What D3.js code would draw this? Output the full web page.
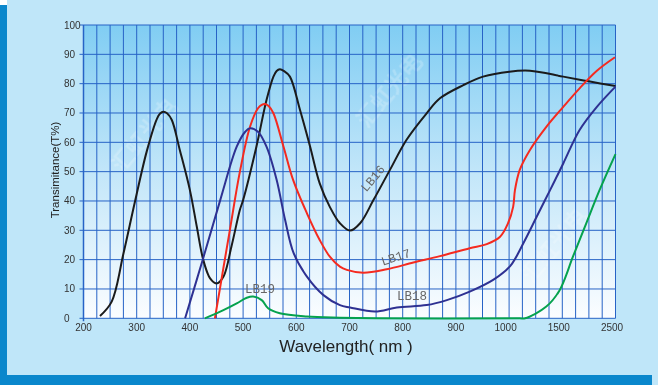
<!DOCTYPE html>
<html>
<head>
<meta charset="utf-8">
<script src="https://cdn.jsdelivr.net/npm/d3@7"></script>
<style>
  html, body { margin: 0; padding: 0; background: #bfe6f9; }
  svg { display: block; }
</style>
</head>
<body>
<div id="chart"></div>
<script>
// wavelength (nm), transmittance (%)
const lb16 = [[231,0.8],[253,5.7],[275,22],[297,40],[319,57],[338,68],[344,69.8],[350,70.4],[357,69.9],[366,67.6],[381,57.4],[400,43.7],[413,31.2],[425,20],[438,13.6],[450,11.9],[463,14.2],[478,24.4],[494,37],[500,40.3],[525,58.5],[544,74.4],[557,82.4],[563,84.3],[569,84.9],[577,84.3],[588,82.4],[607,71],[626,58.5],[644,46],[663,38],[682,32.4],[701,29.9],[720,32.4],[745,40.3],[776,50.6],[807,60.8],[845,69.9],[870,75],[914,79.5],[951,82.4],[1002,84.1],[1196,84.4],[1518,82.4],[2020,80.7],[2500,79.2]];
const lb17 = [[447,0],[475,30],[494,50],[513,65.3],[528,71.6],[535,72.8],[541,73.1],[548,72.4],[557,69.9],[576,58.5],[594,47.2],[620,35.8],[644,26.7],[663,21],[682,17.6],[695,16.5],[726,15.5],[770,16.7],[820,19],[870,21.2],[926,23.9],[958,25.3],[983,27.8],[998,32.4],[1038,38],[1055,43.7],[1100,50.6],[1196,57.4],[1350,65.3],[1518,72.1],[1825,78.4],[2150,84.4],[2490,89]];
const lb18 = [[391,0],[425,20.5],[457,40.3],[488,58.5],[504,63.6],[513,64.8],[528,63.6],[544,58.5],[563,47.2],[579,33.5],[595,22.2],[620,14.2],[651,7.9],[682,4.5],[701,3.7],[748,2.3],[789,3.7],[845,4.5],[883,6.2],[926,9.1],[970,13.1],[1010,17.8],[1134,25.6],[1259,34.6],[1385,43.7],[1518,52.8],[1825,64.2],[2150,72.1],[2500,79]];
const lb19 = [[428,0],[463,2.8],[488,5.1],[507,7],[519,7.4],[535,6.2],[547,3.4],[569,1.7],[620,0.6],[682,0.2],[750,0],[1100,0],[1150,0],[1350,4],[1475,9.6],[1700,21],[1950,32.4],[2200,43.7],[2500,56]];

const xTickLabels = [200, 300, 400, 500, 600, 700, 800, 900, 1000, 1500, 2500];
const yTicks = d3.range(0, 101, 10);
const xGrid = d3.range(200, 1001, 25).concat([1125, 1250, 1375, 1500, 1750, 2000, 2250, 2500]);

const curves = [
  { name: 'LB16', data: lb16, color: '#1b1b1b' },
  { name: 'LB17', data: lb17, color: '#f52a1f' },
  { name: 'LB18', data: lb18, color: '#2e3192' },
  { name: 'LB19', data: lb19, color: '#05a24e' }
];

const W = 658, H = 385;
const plotLeft = 83.5, plotTop = 25, plotRight = 615.5, plotBottom = 318.3;

const svg = d3.select('#chart').append('svg')
  .attr('width', W)
  .attr('height', H)
  .style('font-family', '"Liberation Sans", Arial, sans-serif');

// frame
svg.append('rect').attr('width', W).attr('height', H).attr('fill', '#bfe6f9');
svg.append('rect').attr('x', 0).attr('y', 0).attr('width', 7).attr('height', H).attr('fill', '#0a87cc');
svg.append('rect').attr('x', 0).attr('y', 0).attr('width', 7).attr('height', 5).attr('fill', '#ffffff');
svg.append('rect').attr('x', 0).attr('y', 375).attr('width', 652).attr('height', 10).attr('fill', '#0a87cc');

const defs = svg.append('defs');
const grad = defs.append('linearGradient').attr('id', 'bg').attr('x1', 0).attr('y1', 0).attr('x2', 0).attr('y2', 1);
grad.append('stop').attr('offset', '0%').attr('stop-color', '#80cdf3');
grad.append('stop').attr('offset', '50%').attr('stop-color', '#c2e6f9');
grad.append('stop').attr('offset', '100%').attr('stop-color', '#fbfdff');

// piecewise scale: 200-1000 linear, then compressed to 2500
const x = d3.scaleLinear()
  .domain([200, 1000, 1500, 2500])
  .range([plotLeft, plotLeft + 32 * 13.3, plotLeft + 36 * 13.3, plotLeft + 40 * 13.3]);
const y = d3.scaleLinear().domain([0, 100]).range([plotBottom, plotTop]);

svg.append('rect')
  .attr('x', plotLeft).attr('y', plotTop)
  .attr('width', plotRight - plotLeft).attr('height', plotBottom - plotTop)
  .attr('fill', 'url(#bg)');

// watermark
const wm = svg.append('g').attr('fill', '#ffffff').attr('opacity', 0.22)
  .style('font-family', '"Noto Sans CJK SC", sans-serif').style('font-size', '22px').style('font-weight', 'bold');
[[150, 140], [395, 95], [560, 250]].forEach(p => {
  wm.append('text').attr('transform', `translate(${p[0]},${p[1]}) rotate(-50)`)
    .attr('text-anchor', 'middle').text('汇虹光电');
});

// grid
const grid = svg.append('g').attr('stroke', '#2763c6').attr('stroke-width', 1);
grid.selectAll('line.v').data(xGrid).join('line')
  .attr('class', 'v')
  .attr('x1', d => x(d)).attr('x2', d => x(d))
  .attr('y1', plotTop).attr('y2', plotBottom);
grid.selectAll('line.h').data(yTicks).join('line')
  .attr('class', 'h')
  .attr('x1', plotLeft - 4).attr('x2', plotRight)
  .attr('y1', d => y(d)).attr('y2', d => y(d));
grid.append('line')
  .attr('x1', plotLeft).attr('x2', plotLeft)
  .attr('y1', plotTop).attr('y2', plotBottom + 3)
  .attr('stroke-width', 1.5);

// tick labels
svg.append('g').selectAll('text').data(yTicks).join('text')
  .attr('x', 64).attr('y', d => y(d)).attr('dy', '0.35em')
  .attr('text-anchor', 'start').attr('fill', '#333').style('font-size', '10px')
  .text(d => d);
svg.append('g').selectAll('text').data(xTickLabels).join('text')
  .attr('x', d => x(d) - (d >= 1000 ? 3.5 : 0)).attr('y', 331)
  .attr('text-anchor', 'middle').attr('fill', '#333').style('font-size', '10px')
  .text(d => d);

// axis titles
svg.append('text')
  .attr('transform', 'translate(59,170) rotate(-90)')
  .attr('text-anchor', 'middle').attr('fill', '#222').style('font-size', '11.5px')
  .text('Transimitance(T%)');
svg.append('text')
  .attr('x', 346).attr('y', 352)
  .attr('text-anchor', 'middle').attr('fill', '#222').style('font-size', '17px')
  .text('Wavelength( nm )');

// curves
const line = d3.line()
  .x(d => x(d[0]))
  .y(d => y(d[1]))
  .curve(d3.curveCatmullRom.alpha(0.5));

svg.append('g').attr('fill', 'none').attr('stroke-width', 2).attr('stroke-linejoin', 'round')
  .selectAll('path').data(curves).join('path')
  .attr('stroke', d => d.color)
  .attr('d', d => line(d.data));

// curve labels
const labels = [
  { text: 'LB16', px: 376, py: 181, rot: -50 },
  { text: 'LB17', px: 397, py: 261, rot: -18 },
  { text: 'LB18', px: 412, py: 300, rot: 0 },
  { text: 'LB19', px: 260, py: 293, rot: 0 }
];
svg.append('g').selectAll('text').data(labels).join('text')
  .attr('transform', d => `translate(${d.px},${d.py}) rotate(${d.rot})`)
  .attr('text-anchor', 'middle')
  .attr('fill', '#666')
  .style('font-family', '"Liberation Mono", "DejaVu Sans Mono", monospace')
  .style('font-size', '12.5px')
  .text(d => d.text);
</script>
</body>
</html>
